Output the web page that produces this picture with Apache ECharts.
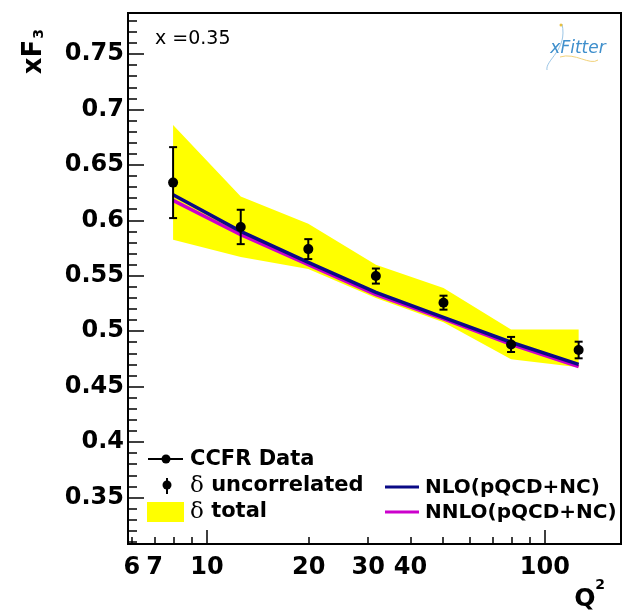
<!DOCTYPE html>
<html>
<head>
<meta charset="utf-8">
<script src="https://cdn.jsdelivr.net/npm/echarts@6/dist/echarts.min.js"></script>
<style>
html,body{margin:0;padding:0;background:#fff;}
#chart{width:626px;height:613px;}
</style>
</head>
<body>
<div id="chart"></div>
<script>
// ---- data ----
const q2 = [7.94, 12.59, 19.95, 31.62, 50.12, 79.43, 125.89];
const dataVal = [0.634, 0.594, 0.574, 0.5497, 0.5257, 0.488, 0.483];
const errUncorr = [0.032, 0.0155, 0.009, 0.0068, 0.0063, 0.0068, 0.0075];
const bandTop = [0.686, 0.6214, 0.597, 0.560, 0.539, 0.5015, 0.5015];
const bandBottom = [0.5825, 0.567, 0.556, 0.530, 0.508, 0.4746, 0.4674];
const nloVal = [0.623, 0.590, 0.562, 0.535, 0.5125, 0.490, 0.470];
const nnloVal = [0.618, 0.587, 0.560, 0.533, 0.511, 0.488, 0.468];
const xLabelValues = [6, 7, 10, 20, 30, 40, 100];
const xMajorTicks = [10, 100];
const xMinorTicks = [6, 7, 8, 9, 20, 30, 40, 50, 60, 70, 80, 90];
const yLabelValues = [0.35, 0.4, 0.45, 0.5, 0.55, 0.6, 0.65, 0.7, 0.75];
const yMinorTicks = [0.31,0.32,0.33,0.34,0.36,0.37,0.38,0.39,0.41,0.42,0.43,0.44,0.46,0.47,0.48,0.49,
  0.51,0.52,0.53,0.54,0.56,0.57,0.58,0.59,0.61,0.62,0.63,0.64,0.66,0.67,0.68,0.69,0.71,0.72,0.73,0.74,0.76,0.77,0.78];

const FONT = '"DejaVu Sans", "Liberation Sans", Arial, sans-serif';
const NLO_COLOR = '#0a0a86';
const NNLO_COLOR = '#cc00cc';
const BAND_COLOR = '#ffff00';

const chart = echarts.init(document.getElementById('chart'), null, {renderer: 'canvas'});

const xBase = {
  type: 'log', logBase: 10, min: 5.84, max: 168, position: 'bottom',
  splitLine: {show: false}, minorTick: {show: false}
};
const yBase = {
  type: 'value', min: 0.308, max: 0.787, position: 'left',
  splitLine: {show: false}, minorTick: {show: false}
};

const option = {
  animation: false,
  backgroundColor: '#fff',
  grid: {
    left: 128, top: 13, right: 5, bottom: 69,
    show: true, borderColor: '#000', borderWidth: 2, backgroundColor: 'transparent'
  },
  xAxis: [
    Object.assign({}, xBase, {
      axisLine: {show: true, lineStyle: {color: '#000', width: 2}},
      axisTick: {show: true, inside: true, length: 14, customValues: xMajorTicks, lineStyle: {color: '#000', width: 1.5}},
      axisLabel: {show: true, customValues: xLabelValues, margin: 12, color: '#000',
        fontFamily: FONT, fontWeight: 'bold', fontSize: 24}
    }),
    Object.assign({}, xBase, {
      axisLine: {show: false},
      axisTick: {show: true, inside: true, length: 7, customValues: xMinorTicks, lineStyle: {color: '#000', width: 1.5}},
      axisLabel: {show: false}
    })
  ],
  yAxis: [
    Object.assign({}, yBase, {
      axisLine: {show: true, lineStyle: {color: '#000', width: 2}},
      axisTick: {show: true, inside: true, length: 16, customValues: yLabelValues, lineStyle: {color: '#000', width: 1.5}},
      axisLabel: {show: true, customValues: yLabelValues, margin: 4, color: '#000',
        fontFamily: FONT, fontWeight: 'bold', fontSize: 24}
    }),
    Object.assign({}, yBase, {
      axisLine: {show: false},
      axisTick: {show: true, inside: true, length: 9, customValues: yMinorTicks, lineStyle: {color: '#000', width: 1.5}},
      axisLabel: {show: false}
    })
  ],
  series: [
    {
      name: 'δ total', type: 'custom', xAxisIndex: 0, yAxisIndex: 0, z: 1,
      data: q2.map((q, i) => [q, bandTop[i], bandBottom[i]]),
      renderItem: function (params, api) {
        if (params.dataIndex !== 0) return null;
        const pts = [];
        for (let i = 0; i < q2.length; i++) pts.push(api.coord([q2[i], bandTop[i]]));
        for (let i = q2.length - 1; i >= 0; i--) pts.push(api.coord([q2[i], bandBottom[i]]));
        return {type: 'polygon', shape: {points: pts}, style: {fill: BAND_COLOR}};
      }
    },
    {
      name: 'NNLO(pQCD+NC)', type: 'line', xAxisIndex: 0, yAxisIndex: 0, z: 2,
      data: q2.map((q, i) => [q, nnloVal[i]]),
      symbol: 'none', lineStyle: {color: NNLO_COLOR, width: 3.5}
    },
    {
      name: 'NLO(pQCD+NC)', type: 'line', xAxisIndex: 0, yAxisIndex: 0, z: 3,
      data: q2.map((q, i) => [q, nloVal[i]]),
      symbol: 'none', lineStyle: {color: NLO_COLOR, width: 3.5}
    },
    {
      name: 'CCFR Data', type: 'custom', xAxisIndex: 0, yAxisIndex: 0, z: 4,
      data: q2.map((q, i) => [q, dataVal[i], errUncorr[i]]),
      renderItem: function (params, api) {
        const x = api.value(0), y = api.value(1), e = api.value(2);
        const c = api.coord([x, y]);
        const t = api.coord([x, y + e]);
        const b = api.coord([x, y - e]);
        const st = {stroke: '#000', lineWidth: 2};
        return {
          type: 'group',
          children: [
            {type: 'line', shape: {x1: c[0], y1: t[1], x2: c[0], y2: b[1]}, style: st},
            {type: 'line', shape: {x1: c[0] - 4, y1: t[1], x2: c[0] + 4, y2: t[1]}, style: st},
            {type: 'line', shape: {x1: c[0] - 4, y1: b[1], x2: c[0] + 4, y2: b[1]}, style: st},
            {type: 'circle', shape: {cx: c[0], cy: c[1], r: 5}, style: {fill: '#000'}}
          ]
        };
      }
    }
  ],
  graphic: [
    // axis titles
    {type: 'text', x: 34, y: 57, rotation: Math.PI / 2,
      style: {text: 'xF', font: 'bold 26px ' + FONT, fill: '#000', align: 'center', verticalAlign: 'middle'}},
    {type: 'text', x: 39, y: 34, rotation: Math.PI / 2,
      style: {text: '3', font: 'bold 14px ' + FONT, fill: '#000', align: 'center', verticalAlign: 'middle'}},
    {type: 'text', x: 585, y: 599,
      style: {text: 'Q', font: 'bold 25px ' + FONT, fill: '#000', align: 'center', verticalAlign: 'middle'}},
    {type: 'text', x: 600, y: 585,
      style: {text: '2', font: 'bold 14px ' + FONT, fill: '#000', align: 'center', verticalAlign: 'middle'}},
    // label
    {type: 'text', x: 155, y: 39,
      style: {text: 'x =0.35', font: '19px ' + FONT, fill: '#000', align: 'left', verticalAlign: 'middle'}},
    // xFitter logo
    {type: 'bezierCurve', shape: {x1: 562, y1: 24, x2: 547, y2: 70, cpx1: 568, cpy1: 50, cpx2: 545, cpy2: 60},
      style: {stroke: '#9cc6e6', lineWidth: 1, fill: null}},
    {type: 'bezierCurve', shape: {x1: 560, y1: 57, x2: 598, y2: 60, cpx1: 575, cpy1: 52, cpx2: 590, cpy2: 66},
      style: {stroke: '#f2d27a', lineWidth: 1, fill: null}},
    {type: 'circle', shape: {cx: 561, cy: 25, r: 1.5}, style: {fill: '#e8c040'}},
    {type: 'text', x: 578, y: 49,
      style: {text: 'xFitter', font: 'italic 17px ' + FONT, fill: '#3f8fcc', align: 'center', verticalAlign: 'middle'}},
    // legend: CCFR Data
    {type: 'line', shape: {x1: 148, y1: 459, x2: 183, y2: 459}, style: {stroke: '#000', lineWidth: 2}},
    {type: 'circle', shape: {cx: 166, cy: 459, r: 4.5}, style: {fill: '#000'}},
    {type: 'text', x: 190, y: 460,
      style: {text: 'CCFR Data', font: 'bold 21px ' + FONT, fill: '#000', align: 'left', verticalAlign: 'middle'}},
    // legend: delta uncorrelated
    {type: 'line', shape: {x1: 167, y1: 478, x2: 167, y2: 494}, style: {stroke: '#000', lineWidth: 2}},
    {type: 'circle', shape: {cx: 167, cy: 485, r: 4.5}, style: {fill: '#000'}},
    {type: 'text', x: 190, y: 486,
      style: {text: '{d|δ} uncorrelated', font: 'bold 21px ' + FONT, fill: '#000', align: 'left', verticalAlign: 'middle',
        rich: {d: {font: '23px "DejaVu Serif", "Liberation Serif", serif', fill: '#000'}}}},
    // legend: delta total
    {type: 'rect', shape: {x: 147, y: 502, width: 37, height: 20}, style: {fill: BAND_COLOR}},
    {type: 'text', x: 190, y: 512,
      style: {text: '{d|δ} total', font: 'bold 21px ' + FONT, fill: '#000', align: 'left', verticalAlign: 'middle',
        rich: {d: {font: '23px "DejaVu Serif", "Liberation Serif", serif', fill: '#000'}}}},
    // legend: NLO / NNLO
    {type: 'line', shape: {x1: 385, y1: 487, x2: 419, y2: 487}, style: {stroke: NLO_COLOR, lineWidth: 3}},
    {type: 'text', x: 425, y: 488,
      style: {text: 'NLO(pQCD+NC)', font: 'bold 20px ' + FONT, fill: '#000', align: 'left', verticalAlign: 'middle'}},
    {type: 'line', shape: {x1: 385, y1: 512, x2: 419, y2: 512}, style: {stroke: NNLO_COLOR, lineWidth: 3}},
    {type: 'text', x: 425, y: 513,
      style: {text: 'NNLO(pQCD+NC)', font: 'bold 20px ' + FONT, fill: '#000', align: 'left', verticalAlign: 'middle'}}
  ]
};

chart.setOption(option);
</script>
</body>
</html>
